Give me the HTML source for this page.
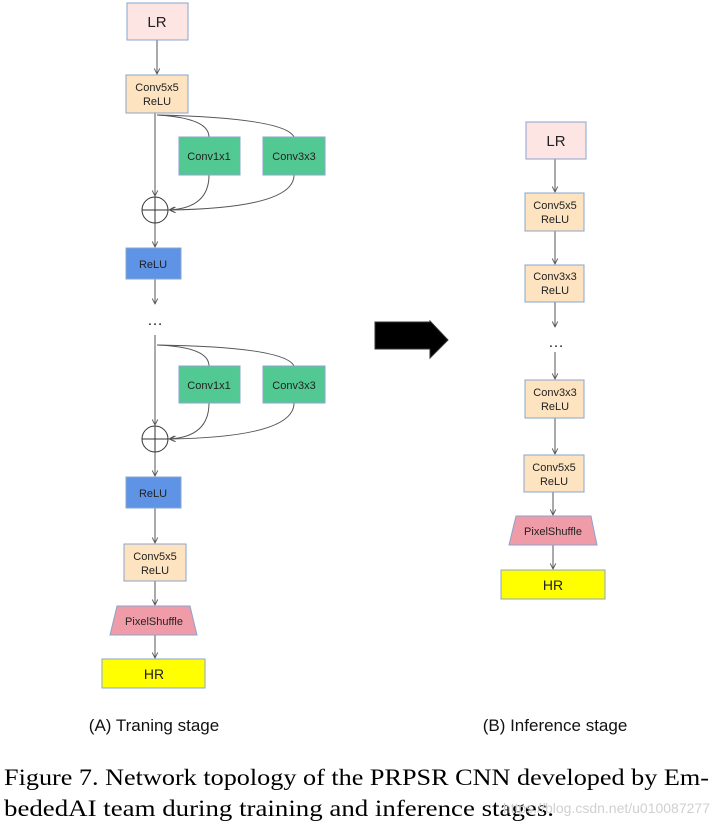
<!DOCTYPE html>
<html><head><meta charset="utf-8"><style>
html,body{margin:0;padding:0;background:#fff;}
svg{display:block}
</style></head><body>
<svg width="718" height="827" viewBox="0 0 718 827" xmlns="http://www.w3.org/2000/svg" font-family="Liberation Sans, sans-serif">
<defs>
<marker id="a" viewBox="0 0 10 10" refX="9" refY="5" markerWidth="7" markerHeight="7" orient="auto"><path d="M1,1 L9,5 L1,9" fill="none" stroke="#555" stroke-width="1.3"/></marker>
</defs>
<g stroke="#555" stroke-width="1" fill="none">
<!-- left column -->
<line x1="157" y1="40" x2="157" y2="74" marker-end="url(#a)"/>
<line x1="155" y1="113" x2="155" y2="196" marker-end="url(#a)"/>
<path d="M157,115 Q209,118 209,137"/>
<path d="M157,115 Q285,118 294,137"/>
<path d="M209,175 Q209,208 169,210" marker-end="url(#a)"/>
<path d="M294,175 Q294,208 170,210" marker-end="url(#a)"/>
<line x1="155" y1="223" x2="155" y2="247" marker-end="url(#a)"/>
<line x1="155" y1="279" x2="155" y2="304" marker-end="url(#a)"/>
<line x1="155" y1="335" x2="155" y2="425" marker-end="url(#a)"/>
<path d="M157,345 Q209,347 209,366"/>
<path d="M157,345 Q285,347 294,366"/>
<path d="M209,403 Q209,437 169,439" marker-end="url(#a)"/>
<path d="M294,403 Q294,437 170,439" marker-end="url(#a)"/>
<line x1="155" y1="452" x2="155" y2="476" marker-end="url(#a)"/>
<line x1="155" y1="508" x2="155" y2="543" marker-end="url(#a)"/>
<line x1="155" y1="581" x2="155" y2="605" marker-end="url(#a)"/>
<line x1="155" y1="635" x2="155" y2="658" marker-end="url(#a)"/>
<circle cx="155" cy="210" r="13" stroke="#333"/>
<line x1="142" y1="210" x2="168" y2="210" stroke="#333"/>
<line x1="155" y1="197" x2="155" y2="223" stroke="#333"/>
<circle cx="155" cy="439" r="13" stroke="#333"/>
<line x1="142" y1="439" x2="168" y2="439" stroke="#333"/>
<line x1="155" y1="426" x2="155" y2="452" stroke="#333"/>
<!-- right column -->
<line x1="555" y1="159" x2="555" y2="192" marker-end="url(#a)"/>
<line x1="555" y1="231" x2="555" y2="264" marker-end="url(#a)"/>
<line x1="555" y1="302" x2="555" y2="327" marker-end="url(#a)"/>
<line x1="555" y1="352" x2="555" y2="379" marker-end="url(#a)"/>
<line x1="555" y1="418" x2="555" y2="454" marker-end="url(#a)"/>
<line x1="553" y1="492" x2="553" y2="515" marker-end="url(#a)"/>
<line x1="553" y1="545" x2="553" y2="569" marker-end="url(#a)"/>
</g>
<g stroke="#8aa4d0" stroke-width="1">
<rect x="127" y="3" width="61" height="37" fill="#fce5e2"/>
<rect x="126" y="75" width="62" height="38" fill="#fde3c0"/>
<rect x="179" y="137" width="61" height="38" fill="#52c993"/>
<rect x="263" y="137" width="62" height="38" fill="#52c993"/>
<rect x="126" y="248" width="55" height="31" fill="#5f93e6"/>
<rect x="179" y="366" width="61" height="37" fill="#52c993"/>
<rect x="263" y="366" width="62" height="37" fill="#52c993"/>
<rect x="126" y="477" width="55" height="31" fill="#5f93e6"/>
<rect x="124" y="544" width="62" height="37" fill="#fde3c0"/>
<polygon points="117,606 190,606 197,635 110,635" fill="#f09ba8"/>
<rect x="102" y="659" width="103" height="29" fill="#ffff00"/>
<rect x="526" y="122" width="60" height="37" fill="#fce5e2"/>
<rect x="525" y="193" width="59" height="38" fill="#fde3c0"/>
<rect x="525" y="265" width="59" height="37" fill="#fde3c0"/>
<rect x="525" y="380" width="59" height="38" fill="#fde3c0"/>
<rect x="524" y="455" width="60" height="37" fill="#fde3c0"/>
<polygon points="516,516 591,516 597,545 509,545" fill="#f09ba8"/>
<rect x="501" y="570" width="104" height="29" fill="#ffff00"/>
</g>
<polygon points="375,322 430,322 430,321 448,340 430,358 430,349 375,349" fill="#000" stroke="#333"/>
<g fill="#222" font-size="11" text-anchor="middle">
<text x="157" y="27" font-size="15">LR</text>
<text x="157" y="91">Conv5x5</text><text x="157" y="105">ReLU</text>
<text x="209" y="160">Conv1x1</text>
<text x="294" y="160">Conv3x3</text>
<text x="153" y="268">ReLU</text>
<text x="155" y="325" font-size="16">…</text>
<text x="209" y="389">Conv1x1</text>
<text x="294" y="389">Conv3x3</text>
<text x="153" y="497">ReLU</text>
<text x="155" y="560">Conv5x5</text><text x="155" y="574">ReLU</text>
<text x="154" y="625">PixelShuffle</text>
<text x="154" y="679" font-size="14">HR</text>
<text x="556" y="146" font-size="15">LR</text>
<text x="555" y="209">Conv5x5</text><text x="555" y="223">ReLU</text>
<text x="555" y="280">Conv3x3</text><text x="555" y="294">ReLU</text>
<text x="556" y="347" font-size="16">…</text>
<text x="555" y="396">Conv3x3</text><text x="555" y="410">ReLU</text>
<text x="554" y="471">Conv5x5</text><text x="554" y="485">ReLU</text>
<text x="553" y="535">PixelShuffle</text>
<text x="553" y="590" font-size="14">HR</text>
</g>
<g fill="#111" font-size="17" text-anchor="middle">
<text x="154" y="731">(A) Traning stage</text>
<text x="555" y="731">(B) Inference stage</text>
</g>
<g fill="#000" font-family="Liberation Serif, serif" font-size="23">
<text x="4" y="785" textLength="705" lengthAdjust="spacingAndGlyphs">Figure 7. Network topology of the PRPSR CNN developed by Em-</text>
<text x="4" y="816" textLength="550" lengthAdjust="spacingAndGlyphs">bededAI team during training and inference stages.</text>
</g>
<text x="710" y="813" font-size="14" fill="#d0d0d0" text-anchor="end">https://blog.csdn.net/u010087277</text>
</svg>
</body></html>
